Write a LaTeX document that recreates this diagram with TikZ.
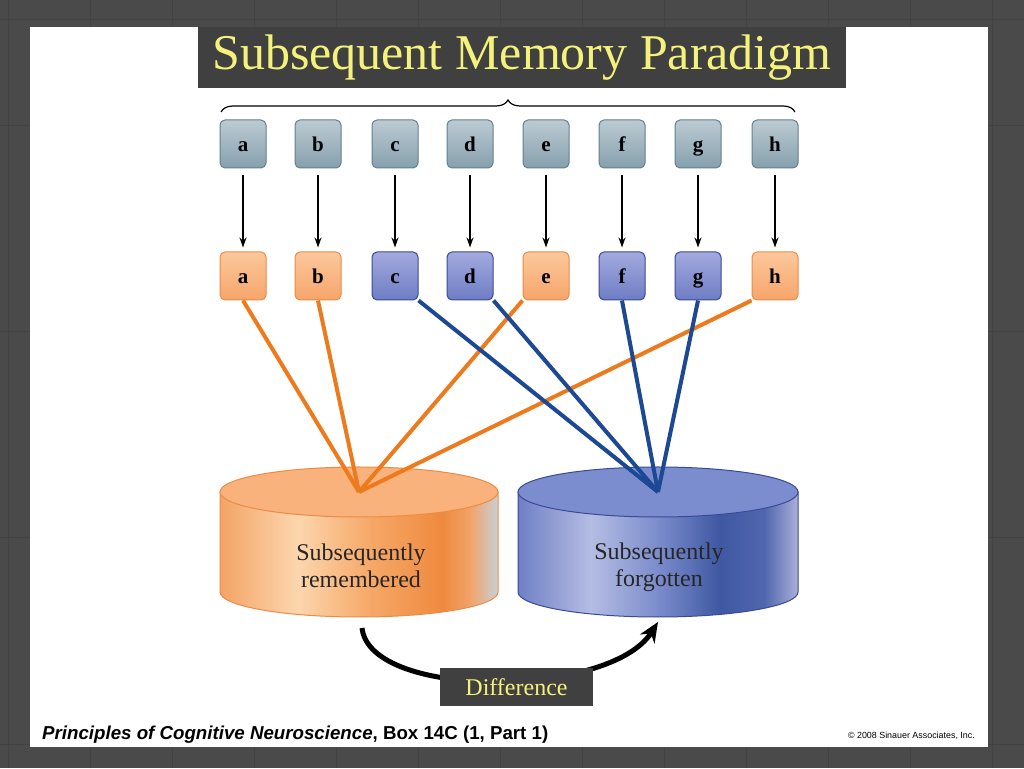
\documentclass[tikz,border=0pt]{standalone}
\usepackage{fontspec}
\setmainfont{Liberation Serif}
\newfontfamily\footfont{Liberation Sans}
\usetikzlibrary{arrows.meta,decorations.pathreplacing,positioning}
\definecolor{bggray}{HTML}{4A4A4A}
\definecolor{bgline}{HTML}{424242}
\definecolor{titlegray}{HTML}{404040}
\definecolor{titleyellow}{HTML}{F4F27A}
\definecolor{cueedge}{HTML}{62808F}
\definecolor{cuelight}{HTML}{BCCBD3}
\definecolor{cuedark}{HTML}{86A0AD}
\definecolor{remedge}{HTML}{EB8B45}
\definecolor{remlight}{HTML}{FCC89C}
\definecolor{remdark}{HTML}{F6A56A}
\definecolor{forgedge}{HTML}{3A4A98}
\definecolor{forglight}{HTML}{A2AADE}
\definecolor{forgdark}{HTML}{6E7DC4}
\definecolor{remline}{HTML}{EE7A1E}
\definecolor{forgline}{HTML}{1D4893}
\definecolor{remtopfill}{HTML}{F9B27B}
\definecolor{forgtopfill}{HTML}{7B8DCF}
% body colours of the two bins
\definecolor{remA}{HTML}{F3A466}\definecolor{remB}{HTML}{FCD6AE}
\definecolor{remC}{HTML}{F6A868}\definecolor{remD}{HTML}{EF8A3E}
\definecolor{remE}{HTML}{F2A36A}\definecolor{remF}{HTML}{C8D0D6}
\definecolor{forgA}{HTML}{6F7FC4}\definecolor{forgB}{HTML}{B4BDE3}
\definecolor{forgC}{HTML}{7B8CCC}\definecolor{forgD}{HTML}{3F58A2}
\definecolor{forgE}{HTML}{5066AE}\definecolor{forgF}{HTML}{AAB0D8}
\pgfdeclarehorizontalshading{rembody}{100bp}{color(0bp)=(remA); color(25bp)=(remA);
  color(39bp)=(remB); color(52bp)=(remC); color(65bp)=(remD); color(70bp)=(remE); color(75bp)=(remF); color(100bp)=(remF)}
\pgfdeclarehorizontalshading{forgbody}{100bp}{color(0bp)=(forgA); color(25bp)=(forgA);
  color(38bp)=(forgB); color(50bp)=(forgC); color(61bp)=(forgD); color(69bp)=(forgE); color(75bp)=(forgF); color(100bp)=(forgF)}
\begin{document}
\begin{tikzpicture}[x=1pt,y=1pt,
  cue/.style={draw=#1edge,line width=1pt,top color=#1light,bottom color=#1dark,rounded corners=5pt,
    minimum width=46pt,minimum height=48pt,inner sep=0pt,text height=16pt,text depth=0pt,
    font=\fontsize{21}{21}\selectfont\bfseries},
  cuearrow/.style={-{Stealth[length=10pt,width=7pt]},line width=1.5pt,shorten <=7pt,shorten >=4pt},
  link/.style={line width=4pt,draw=#1line},
  bintext/.style={align=center,text=black!85,font=\fontsize{24}{27}\selectfont},
  darkbox/.style={fill=titlegray,text=titleyellow,inner sep=0pt}]
\useasboundingbox (0,0) rectangle (1024,768);
\fill[bggray] (0,0) rectangle (1024,768);
\foreach \x in {8,90,172,254,336,418,500,582,664,746,828,910,992} \draw[bgline,line width=1pt] (\x,0) -- (\x,768);
\foreach \y in {24,230,436,642,748} \draw[bgline,line width=1pt] (0,\y) -- (1024,\y);
\fill[white] (30,21) rectangle (988,741);
% title
\node[darkbox,minimum width=648pt,minimum height=61pt] (title) at (522,710.5)
  {\fontsize{50}{50}\selectfont Subsequent Memory Paradigm};
\draw[line width=1.2pt,decorate,decoration={brace,amplitude=12pt}] (221,656) -- (795,656);
% the two bins
\shade[shading=rembody,draw=remedge,line width=1pt] (220,276) -- (220,176) arc[start angle=180,end angle=360,x radius=139,y radius=25] -- (498,276) -- cycle;
\filldraw[fill=remtopfill,draw=remedge,line width=1pt] (359,276) ellipse[x radius=139,y radius=25];
\shade[shading=forgbody,draw=forgedge,line width=1pt] (518,276) -- (518,176) arc[start angle=180,end angle=360,x radius=140,y radius=25] -- (798,276) -- cycle;
\filldraw[fill=forgtopfill,draw=forgedge,line width=1pt] (658,276) ellipse[x radius=140,y radius=25];
\node[bintext] (rembin) at (361,202) {Subsequently\\remembered};
\node[bintext] (forgbin) at (659,201) {Subsequently\\forgotten};
\coordinate (remtop) at (359,276);
\coordinate (forgtop) at (658,276);
% items, before and after sorting
\foreach \l/\x/\c in {a/243/rem,b/318/rem,c/395/forg,d/470/forg,e/546/rem,f/622/forg,g/698/forg,h/775/rem}{
  \node[cue=cue] (t\l) at (\x,624) {\l};
  \node[cue=\c] (s\l) at (\x,492) {\l};
  \draw[cuearrow] (t\l) -- (s\l);
}
\foreach \p in {sa.south,sb.south,se.south west,sh.south west} \draw[link=rem] (\p) -- (remtop);
\foreach \p in {sc.south east,sd.south east,sf.south,sg.south} \draw[link=forg] (\p) -- (forgtop);
% difference
\coordinate (remlow) at (362,140);
\coordinate (forglow) at (658,146);
\draw[line width=5pt,-{Stealth[length=20pt,width=17pt]}] (remlow) .. controls (370,68) and (610,70) .. (forglow);
\node[darkbox,minimum width=153pt,minimum height=38pt] (diff) at (516.5,81) {\fontsize{24}{24}\selectfont Difference};
% footer
\node[anchor=base west,inner sep=0pt] (credit) at (42,29)
  {\footfont\fontsize{18.7}{19}\selectfont\bfseries{\itshape Principles of Cognitive Neuroscience}, Box 14C (1, Part 1)};
\node[anchor=base east,inner sep=0pt] (copy) at (975,30)
  {\footfont\fontsize{8.9}{9}\selectfont © 2008 Sinauer Associates, Inc.};
\end{tikzpicture}
\end{document}
